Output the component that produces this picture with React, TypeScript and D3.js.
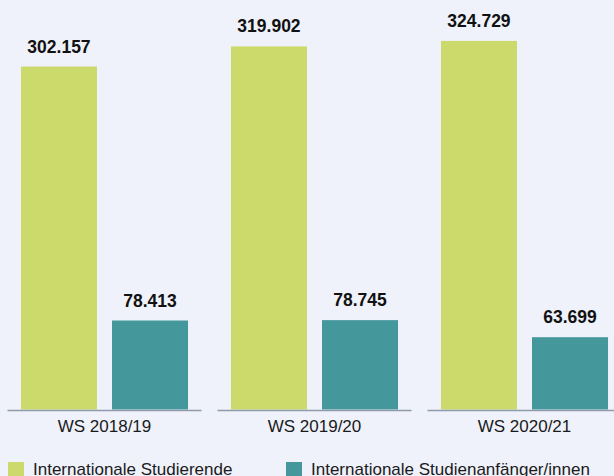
import React from "react";
import * as d3 from "d3";

const categories = ["WS 2018/19", "WS 2019/20", "WS 2020/21"];
const seriesNames = ["Internationale Studierende", "Internationale Studienanfänger/innen"];
const studierende = [302157, 319902, 324729];
const anfaenger = [78413, 78745, 63699];
const colors = ["#ccd96b", "#44979b"];

const W = 614;
const H = 476;
const baseline = 409.5;

const fmt = (v: number) => d3.format(",")(v).replace(/,/g, ".");

export default function App() {
  const x0 = d3.scaleBand<string>().domain(categories).range([7.5, 621.5]).paddingInner(16 / 210).paddingOuter(0);
  const bw = x0.bandwidth();
  const x1 = d3.scaleBand<string>().domain(seriesNames).range([0, bw]).paddingInner(15 / 91).paddingOuter(0.148);
  const y = d3.scaleLinear().domain([0, 360000]).range([baseline, baseline - 408.6]);
  const series = [studierende, anfaenger];
  const font = "'Liberation Sans', Arial, sans-serif";
  return (
    <div style={{ position: "fixed", left: 0, top: 0 }}>
      <svg width={W} height={H} style={{ display: "block", background: "#eff2fb" }} fontFamily={font}>
        <rect x={0} y={0} width={W} height={H} fill="#eff2fb" />
        {categories.map((c, ci) => (
          <g key={c} transform={`translate(${x0(c)},0)`}>
            {seriesNames.map((s, si) => {
              const v = series[si][ci];
              const bx = x1(s)!;
              return (
                <g key={s}>
                  <rect x={bx} y={y(v)} width={x1.bandwidth()} height={baseline - y(v)} fill={colors[si]} />
                  <text x={bx + x1.bandwidth() / 2} y={y(v) - 14} textAnchor="middle" fontSize={17.5} fontWeight="bold" fill="#111">
                    {fmt(v)}
                  </text>
                </g>
              );
            })}
            <line x1={0} x2={bw} y1={baseline + 1} y2={baseline + 1} stroke="#8e9caa" strokeWidth={1.5} />
            <text x={bw / 2} y={432} textAnchor="middle" fontSize={17} fill="#1a1a1a">{c}</text>
          </g>
        ))}
        {seriesNames.map((s, si) => {
          const lx = [8, 286][si];
          return (
            <g key={s}>
              <rect x={lx} y={462} width={16} height={16} fill={colors[si]} />
              <text x={lx + 25} y={475} fontSize={17} fill="#1a1a1a">{s}</text>
            </g>
          );
        })}
      </svg>
    </div>
  );
}
